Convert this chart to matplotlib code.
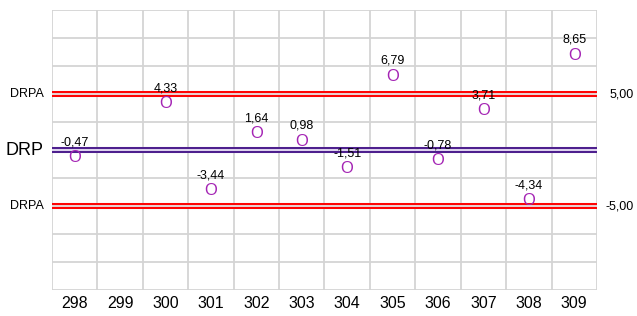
import matplotlib
matplotlib.use("Agg")
from matplotlib import pyplot as plt

plt.rcParams["font.family"] = ["Liberation Sans", "DejaVu Sans"]

runs = ["298", "299", "300", "301", "302", "303", "304", "305", "306", "307", "308", "309"]
values = [-0.47, None, 4.33, -3.44, 1.64, 0.98, -1.51, 6.79, -0.78, 3.71, -4.34, 8.65]
labels = ["-0,47", "", "4,33", "-3,44", "1,64", "0,98", "-1,51", "6,79", "-0,78", "3,71", "-4,34", "8,65"]
limit = 5.0

fig = plt.figure(figsize=(6.37, 3.16), dpi=100)
ax = fig.add_axes([0.0816, 0.0823, 0.8555, 0.886])

n = len(runs)
ax.set_xlim(0, n)
ax.set_ylim(-12.5, 12.5)

grid_c = "#d4d4d4"
for i in range(n + 1):
    ax.axvline(i, color=grid_c, lw=1.3, zorder=0)
for k in range(-5, 6):
    ax.axhline(k * 2.5, color=grid_c, lw=1.3, zorder=0)

# double lines for limits and centre
def double_line(y, color, fill):
    ax.axhline(y, color=fill, lw=4.5, zorder=1)
    ax.axhline(y + 0.18, color=color, lw=1.4, zorder=2)
    ax.axhline(y - 0.18, color=color, lw=1.4, zorder=2)

double_line(limit, "#ff0000", "#e8d0d0")
double_line(-limit, "#ff0000", "#e8d0d0")
double_line(0, "#4b1c8c", "#ddd3ee")

for i, (v, lab) in enumerate(zip(values, labels)):
    if v is None:
        continue
    ax.annotate("O", (i + 0.5, v), xytext=(0, -1.5), textcoords="offset points",
                color="#a424b4", fontsize=12, ha="center", va="center", zorder=3)
    ax.annotate(lab, (i + 0.5, v), xytext=(0, 9.5), textcoords="offset points",
                ha="center", va="center", fontsize=9, color="black", zorder=4)

for s in ax.spines.values():
    s.set_visible(False)
ax.set_xticks([i + 0.5 for i in range(n)])
ax.set_xticklabels(runs, fontsize=11.5)
ax.set_yticks([])
ax.tick_params(axis="x", length=0, pad=4)

# side labels
ax.text(-0.18, limit, "DRPA", ha="right", va="center", fontsize=9)
ax.text(-0.18, -limit, "DRPA", ha="right", va="center", fontsize=9)
ax.text(-0.18, 0, "DRP", ha="right", va="center", fontsize=13)
ax.text(n + 0.81, limit, "5,00", ha="right", va="center", fontsize=9)
ax.text(n + 0.81, -limit, "-5,00", ha="right", va="center", fontsize=9)

fig.savefig("out.png", dpi=100)
